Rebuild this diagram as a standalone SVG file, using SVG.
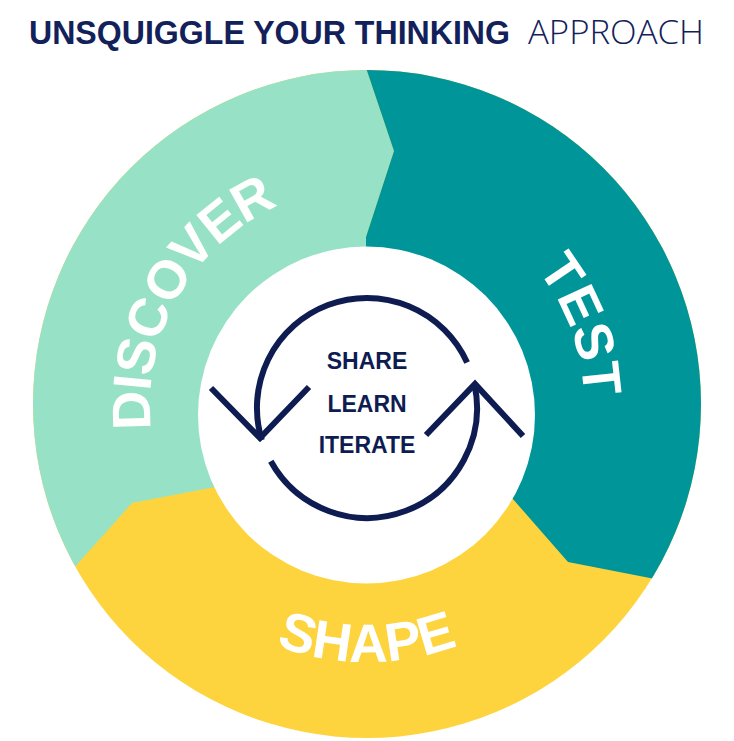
<svg xmlns="http://www.w3.org/2000/svg" width="734" height="741" viewBox="0 0 734 741">
  <style>
    .title { font-family: "Liberation Sans", Arial, sans-serif; font-size: 33px; fill: #13215A; }
    .seg { font-family: "Liberation Sans", Arial, sans-serif; font-weight: bold; font-size: 54px; fill: #FFFFFF; }
    .center { font-family: "Liberation Sans", Arial, sans-serif; font-weight: bold; font-size: 23px; fill: #0E1C52; text-anchor: middle; }
    .loop { fill: none; stroke: #0E1C52; stroke-width: 6; stroke-linecap: butt; stroke-linejoin: miter; }
  </style>
  <defs>
    <clipPath id="ring">
      <circle cx="367" cy="404" r="334"/>
    </clipPath>
    <path id="cw" d="M 367 621 A 217 217 0 1 1 367 187 A 217 217 0 1 1 367 621"/>
    <path id="bottomArc" d="M 109 404 A 258 258 0 0 0 625 404"/>
  </defs>

  <rect width="734" height="741" fill="#FFFFFF"/>

  <g id="title">
    <text class="title" x="29" y="44" font-weight="bold" textLength="481" lengthAdjust="spacingAndGlyphs">UNSQUIGGLE YOUR THINKING</text>
    <text class="title" x="528" y="44" style="font-family:'Open Sans','Liberation Sans',sans-serif;font-weight:300" textLength="176" lengthAdjust="spacingAndGlyphs">APPROACH</text>
  </g>

  <g id="shape-segment">
    <circle cx="367" cy="404" r="334" fill="#FDD43E"/>
  </g>
  <g id="discover-segment" clip-path="url(#ring)">
    <polygon points="360,50 394,151 366,237 367,415 215,487 132,503 73,569 30,617 0,700 0,0 360,0" fill="#97E2C7"/>
  </g>
  <g id="test-segment" clip-path="url(#ring)">
    <polygon points="360,0 360,50 394,151 366,237 367,415 512,498 568,562 655,579 740,596 740,0" fill="#009599"/>
  </g>
  <g id="center">
    <circle cx="366.5" cy="415" r="168.5" fill="#FFFFFF"/>
  </g>

  <g id="labels">
    <text class="seg" letter-spacing="-1"><textPath href="#cw" startOffset="33.2%" text-anchor="middle">DISCOVER</textPath></text>
    <text class="seg"><textPath href="#cw" startOffset="69.4%" text-anchor="middle">TEST</textPath></text>
    <text class="seg"><textPath href="#bottomArc" startOffset="50%" text-anchor="middle">SHAPE</textPath></text>
  </g>

  <g id="connectors">
    <path class="loop" d="M 467.1 362.4 A 110 110 0 0 0 261.8 440.2"/>
    <polyline class="loop" points="211,388 260,438 309,387"/>
    <path class="loop" d="M 270.8 461.3 A 110 110 0 0 0 474.4 384.2"/>
    <polyline class="loop" points="426,435 475,384 523,436"/>
  </g>

  <g id="center-text">
    <text class="center" x="367" y="369">SHARE</text>
    <text class="center" x="367" y="412">LEARN</text>
    <text class="center" x="367" y="453">ITERATE</text>
  </g>
</svg>
